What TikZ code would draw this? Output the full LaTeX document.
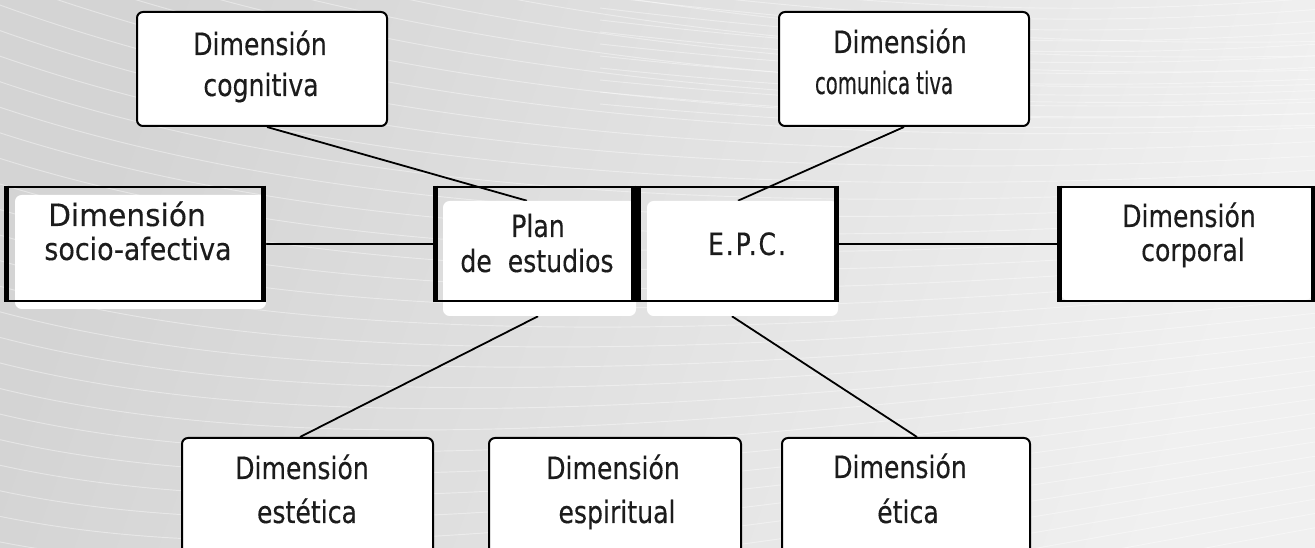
\documentclass[tikz,border=0pt]{standalone}
\usepackage{fontspec}
\setmainfont{DejaVu Sans}[FakeStretch=0.82, FakeBold=0.3]
\pgfdeclarelayer{bg}
\pgfdeclarelayer{lines}
\pgfsetlayers{bg,lines,main}
\definecolor{bgA}{RGB}{212,212,212}
\definecolor{bgB}{RGB}{240,240,240}
\definecolor{txtc}{RGB}{28,28,28}
\tikzset{
  rbox/.style={draw=black, line width=1.5pt, rounded corners=4.5pt, fill=white, inner sep=0pt},
  wfill/.style={fill=white, draw=none, rounded corners=5pt, inner sep=0pt},
  framebox/.style={draw=black, line width=2.2pt, inner sep=0pt},
  lbl/.style={anchor=base, text=txtc, inner sep=0pt, font=\fontsize{23}{27}\selectfont},
  conn/.style={draw=black, line width=1.35pt},
  streak/.style={draw=white, opacity=0.4, line width=0.7pt}
}
\begin{document}
\begin{tikzpicture}[x=0.75pt,y=-0.75pt]
\useasboundingbox (0,0) rectangle (1315,548);
\clip (0,0) rectangle (1315,548);
\begin{pgfonlayer}{bg}
  \shade[left color=bgA, right color=bgB, shading angle=70] (0,0) rectangle (1315,548);
  \foreach \i in {0,...,34} {
    \draw[streak] (-60,{-200+\i*26}) .. controls (250,{-60+\i*24}) and (700,{60+\i*17}) .. (1380,{40+\i*14});
  }
  \foreach \i in {0,...,12} {
    \draw[streak] (600,{-40+\i*12}) .. controls (900,{0+\i*11}) and (1100,{10+\i*10}) .. (1380,{-20+\i*12});
  }
\end{pgfonlayer}

% top row
\node[rbox, minimum width=187.5pt, minimum height=85.5pt] (cog) at (262,69) {};
\node[rbox, minimum width=187.5pt, minimum height=85.5pt] (com) at (904,69) {};

% middle row: white fills
\node[wfill, minimum width=188.25pt, minimum height=85.5pt] (socio) at (140.5,252) {};
\node[wfill, minimum width=144.75pt, minimum height=86.25pt] (plan) at (539.5,258.5) {};
\node[wfill, minimum width=143.25pt, minimum height=86.25pt] (epc) at (742.5,258.5) {};
\node[wfill, minimum width=188.25pt, minimum height=84.75pt] (corp) at (1186.5,243.5) {};

% middle row: frames
\node[framebox, minimum width=190.5pt, minimum height=85.5pt] (socioF) at (135,244) {};
\node[framebox, minimum width=146.25pt, minimum height=85.5pt] (planF) at (534.5,244) {};
\node[framebox, minimum width=146.25pt, minimum height=85.5pt] (epcF) at (737.5,244) {};
\node[framebox, minimum width=188.25pt, minimum height=85.5pt] (corpF) at (1186.5,244) {};
\foreach \f in {socioF,planF,epcF,corpF} {
  \draw[line width=3.6pt] (\f.north west) -- (\f.south west);
  \draw[line width=3.6pt] (\f.north east) -- (\f.south east);
}

% bottom row
\node[rbox, minimum width=188.25pt, minimum height=91.5pt] (est) at (307.5,499) {};
\node[rbox, minimum width=189pt, minimum height=91.5pt] (esp) at (615,499) {};
\node[rbox, minimum width=186pt, minimum height=91.5pt] (eti) at (906,499) {};

% connectors
\begin{pgfonlayer}{lines}
  \draw[conn] ([xshift=3.75pt]cog.south) -- ([xshift=-9.4pt]plan.north);
  \draw[conn] (com.south) -- ([xshift=-3.4pt]epc.north);
  \draw[conn] (socioF.east) -- (planF.west);
  \draw[conn] (epcF.east) -- (corpF.west);
  \draw[conn] ([xshift=-1.1pt]plan.south) -- ([xshift=-5.6pt]est.north);
  \draw[conn] ([xshift=-7.9pt]epc.south) -- ([xshift=8.25pt]eti.north);
\end{pgfonlayer}

% labels
\node[lbl] (cog1) at (260,55) {Dimensión};
\node[lbl] (cog2) at (261,96) {cognitiva};
\node[lbl] (com1) at (900,53) {Dimensión};
\node[lbl] (com2) at (884,94) {\scalebox{0.78}[1]{comunica tiva}};
\node[lbl] (soc1) at (127,226) {\scalebox{1.18}[1]{Dimensión}};
\node[lbl] (soc2) at (138,260) {\scalebox{1.07}[1]{socio-afectiva}};
\node[lbl] (pla1) at (538,237) {Plan};
\node[lbl] (pla2) at (537,272) {de\ \ estudios};
\node[lbl] (epc1) at (747,255) {\addfontfeature{LetterSpace=6}E.P.C.};
\node[lbl] (cor1) at (1189,227) {Dimensión};
\node[lbl] (cor2) at (1193,261) {corporal};
\node[lbl] (est1) at (302,479) {Dimensión};
\node[lbl] (est2) at (307,523) {estética};
\node[lbl] (esp1) at (613,479) {Dimensión};
\node[lbl] (esp2) at (617,523) {espiritual};
\node[lbl] (eti1) at (900,478) {Dimensión};
\node[lbl] (eti2) at (908,523) {ética};
\end{tikzpicture}
\end{document}
